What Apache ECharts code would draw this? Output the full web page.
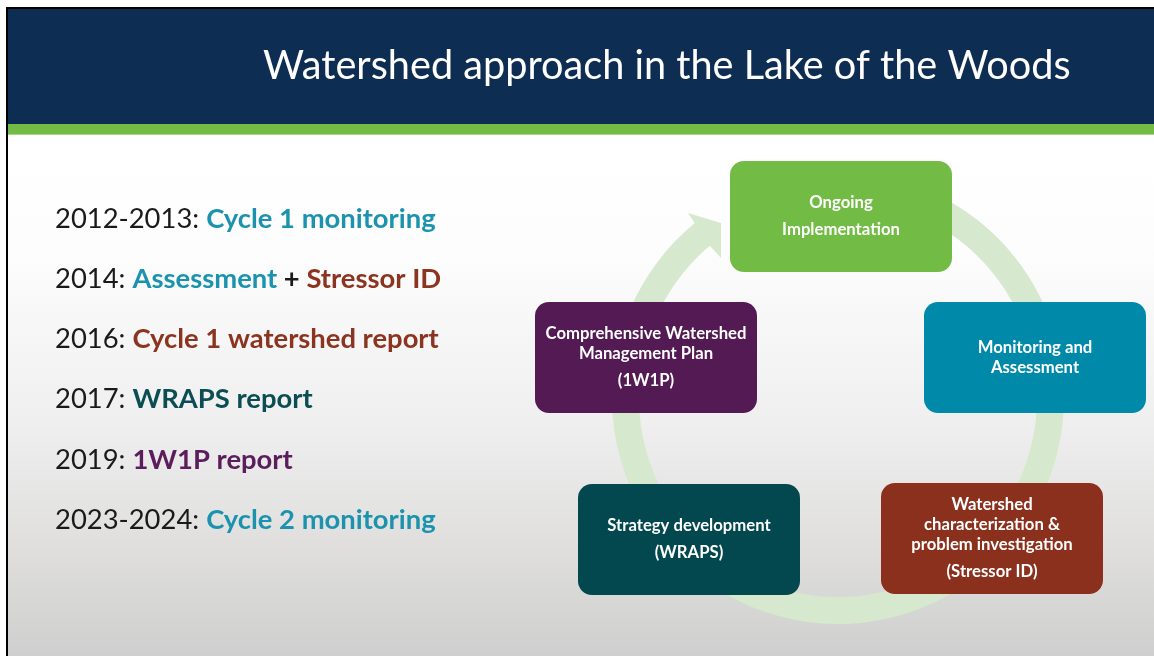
<!DOCTYPE html>
<html>
<head>
<meta charset="utf-8">
<script src="https://cdn.jsdelivr.net/npm/echarts@6/dist/echarts.min.js"></script>
<style>
  html, body { margin: 0; padding: 0; background: #fff; }
  #main { width: 1154px; height: 656px; }
</style>
</head>
<body>
<div id="main"></div>
<script>
// ---- content ----
const slideTitle = 'Watershed approach in the Lake of the Woods'
const years = ['2012-2013', '2014', '2016', '2017', '2019', '2023-2024']
// milestone pieces: [text, cycle stage index] (-1 = plain text)
const milestones = [
  [['Cycle 1 monitoring', 1]],
  [['Assessment', 1], [' + ', -1], ['Stressor ID', 2]],
  [['Cycle 1 watershed report', 2]],
  [['WRAPS report', 3]],
  [['1W1P report', 4]],
  [['Cycle 2 monitoring', 1]]
]
// cycle stages, clockwise from the top: paragraphs -> lines
const stages = [
  [['Ongoing'], ['Implementation']],
  [['Monitoring and', 'Assessment']],
  [['Watershed', 'characterization &', 'problem investigation'], ['(Stressor ID)']],
  [['Strategy development'], ['(WRAPS)']],
  [['Comprehensive Watershed', 'Management Plan'], ['(1W1P)']]
]

// ---- styles / layout ----
const FONT = 'Lato, "Open Sans", sans-serif'
const stageColors = ['#72bb45', '#0089a8', '#8a301c', '#02484e', '#531a53']
const stageTextColors = ['#72bb45', '#1b93ae', '#8b3420', '#0b4d53', '#5b1d5c']
const boxPos = [[730, 161], [924, 302], [881, 483], [578, 484], [535, 302]]
const BOX_W = 222, BOX_H = 111
const RING = { cx: 838, cy: 398, r0: 199, r: 226, color: '#d6e8cd' }

const ctx = document.createElement('canvas').getContext('2d')
const textWidth = (str, size, weight) => {
  ctx.font = `${weight} ${size}px ${FONT}`
  return ctx.measureText(str).width
}

// font sizes fitted to the widths measured on the original slide
const titleSize = 100 * 808 / textWidth(slideTitle, 100, 'normal')
const listSize = 100 * 384 / (textWidth(years[2] + ': ', 100, 'normal') + textWidth(milestones[2][0][0], 100, 'bold'))
const boxSize = 100 * 201 / textWidth(stages[4][0][0], 100, 'bold')

const graphic = []

// frame + header
graphic.push({ type: 'rect', shape: { x: 6, y: 7, width: 1148, height: 649 }, style: { fill: '#000' }, silent: true })
graphic.push({
  type: 'rect', shape: { x: 8, y: 135, width: 1146, height: 521 }, silent: true,
  style: {
    fill: {
      type: 'linear', x: 0, y: 0, x2: 0, y2: 1,
      colorStops: [
        { offset: 0, color: '#ffffff' },
        { offset: 0.22, color: '#fdfdfd' },
        { offset: 0.55, color: '#efefef' },
        { offset: 0.8, color: '#dfdedd' },
        { offset: 1, color: '#cecfce' }
      ]
    }
  }
})
graphic.push({ type: 'rect', shape: { x: 8, y: 9, width: 1146, height: 115 }, style: { fill: '#0e2d52' }, silent: true })
graphic.push({ type: 'rect', shape: { x: 8, y: 124, width: 1146, height: 11 }, style: { fill: '#72bb45' }, silent: true })
graphic.push({ type: 'rect', shape: { x: 8, y: 134, width: 1146, height: 1 }, style: { fill: '#a9d68e' }, silent: true })
graphic.push({
  type: 'text', silent: true,
  style: {
    x: 263, y: 66, text: slideTitle, fill: '#ffffff',
    fontSize: titleSize, fontFamily: FONT,
    align: 'left', verticalAlign: 'middle', textAlign: 'left', textVerticalAlign: 'middle'
  }
})

// milestone list
const richStyle = (color, weight) => ({ fontSize: listSize, fontFamily: FONT, fontWeight: weight, fill: color, color })
const rich = { y: richStyle('#1a1a1a', 'normal'), p: richStyle('#1a1a1a', 'bold') }
stageTextColors.forEach((c, i) => { rich['s' + i] = richStyle(c, 'bold') })
years.forEach((yr, i) => {
  let str = `{y|${yr}: }`
  milestones[i].forEach(([t, s]) => {
    str += s < 0 ? `{p|${t}}` : `{s${s}|${t}}`
  })
  graphic.push({
    type: 'text', silent: true,
    style: {
      x: 55, y: 219 + i * 60.2, text: str, rich,
      align: 'left', verticalAlign: 'middle', textAlign: 'left', textVerticalAlign: 'middle'
    }
  })
})

// cycle ring + arrow head
const deg = Math.PI / 180
graphic.push({
  type: 'sector', silent: true,
  shape: { cx: RING.cx, cy: RING.cy, r0: RING.r0, r: RING.r, startAngle: -95 * deg, endAngle: 231 * deg, clockwise: true },
  style: { fill: RING.color }
})
graphic.push({
  type: 'polygon', silent: true,
  shape: { points: [[688, 213], [721, 223], [721, 258], [710, 246]] },
  style: { fill: RING.color }
})

// stage boxes
stages.forEach((paras, i) => {
  const [bx, by] = boxPos[i]
  graphic.push({
    type: 'rect', silent: true,
    shape: { x: bx, y: by, width: BOX_W, height: BOX_H, r: 14 },
    style: { fill: stageColors[i] }
  })
  const nLines = paras.reduce((n, p) => n + p.length, 0)
  const total = nLines * 20 + (paras.length - 1) * 7
  let y = by + BOX_H / 2 - total / 2 + 10
  paras.forEach(lines => {
    lines.forEach(line => {
      graphic.push({
        type: 'text', silent: true,
        style: {
          x: bx + BOX_W / 2, y, text: line, fill: '#ffffff',
          fontSize: boxSize, fontWeight: 'bold', fontFamily: FONT,
          align: 'center', verticalAlign: 'middle', textAlign: 'center', textVerticalAlign: 'middle'
        }
      })
      y += 20
    })
    y += 7
  })
})

const chart = echarts.init(document.getElementById('main'), null, { renderer: 'canvas' })
chart.setOption({
  backgroundColor: '#ffffff',
  animation: false,
  graphic
})
</script>
</body>
</html>
